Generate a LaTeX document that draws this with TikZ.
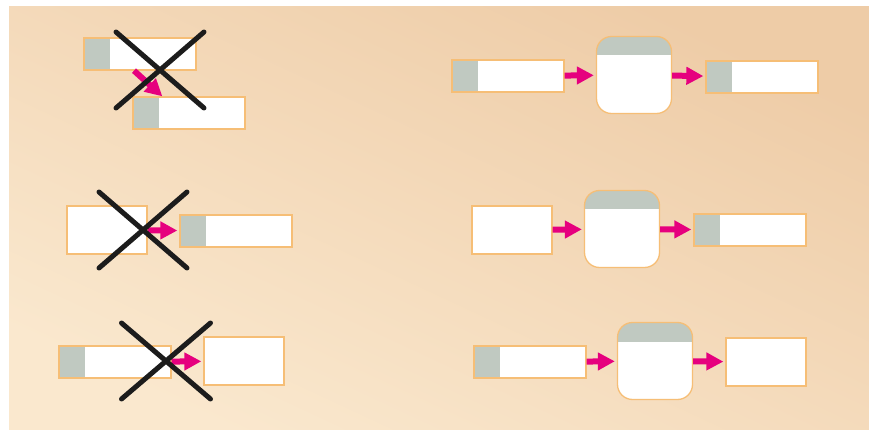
\documentclass[tikz,border=0pt]{standalone}
\usetikzlibrary{shapes.misc,arrows.meta}

\definecolor{boxline}{RGB}{246,190,118}
\definecolor{tagfill}{RGB}{192,201,193}
\definecolor{flowpink}{RGB}{230,0,126}
\definecolor{ink}{RGB}{28,28,28}
\definecolor{paperdark}{RGB}{238,204,167}
\definecolor{paperlight}{RGB}{250,232,206}

\begin{document}
\begin{tikzpicture}[x=1pt,y=-1pt,
    tag box/.style={draw=boxline,line width=1.3pt,fill=white,inner sep=0pt,
      minimum width=112pt,minimum height=32pt,
      path picture={\fill[tagfill] (path picture bounding box.north west)
        rectangle ([xshift=26pt]path picture bounding box.south west);}},
    plain box/.style={draw=boxline,line width=1.3pt,fill=white,inner sep=0pt,
      minimum width=80pt,minimum height=48pt},
    round box/.style={draw=boxline,line width=1.3pt,fill=white,inner sep=0pt,
      rounded corners=15pt,minimum width=75pt,minimum height=77pt,
      path picture={\fill[tagfill,sharp corners] (path picture bounding box.north west)
        rectangle ([yshift=-19pt]path picture bounding box.north east);}},
    flow arrow/.style={-{Triangle[length=17pt,width=17pt]},line width=6pt,
      draw=flowpink,shorten >=2pt},
    wrong/.style={cross out,draw=ink,line width=5pt,line cap=round,
      minimum width=83pt,minimum height=71pt,inner sep=0pt}]

  % paper
  \useasboundingbox (0,0) rectangle (869,430);
  \fill[white] (0,0) rectangle (869,430);
  \shade[top color=paperdark,bottom color=paperlight,shading angle=-25]
    (9,7) rectangle (869,430);

  % left column: wrong ways
  \node[tag box] (1) at (140,54) {};
  \node[tag box] (2) at (189,113) {};
  \node[plain box] (3) at (107,230) {};
  \node[tag box] (4) at (236,231) {};
  \node[tag box] (5) at (115,362) {};
  \node[plain box] (6) at (244,361) {};

  % right column: right ways
  \node[tag box] (7) at (508,76) {};
  \node[round box] (8) at (634,75) {};
  \node[tag box] (9) at (762,77) {};
  \node[plain box] (10) at (512,230) {};
  \node[round box] (11) at (622,229) {};
  \node[tag box] (12) at (750,230) {};
  \node[tag box] (13) at (530,362) {};
  \node[round box] (14) at (655,361) {};
  \node[plain box] (15) at (766,362) {};

  \draw[flow arrow,shorten >=0pt] ([xshift=-6pt]1.south) -- ([xshift=30pt]2.north west);
  \draw[flow arrow] (3) -- (4);
  \draw[flow arrow] (5) -- (6);
  \draw[flow arrow] (7) -- (8);
  \draw[flow arrow] (8) -- (9);
  \draw[flow arrow] (10) -- (11);
  \draw[flow arrow] (11) -- (12);
  \draw[flow arrow] (13) -- (14);
  \draw[flow arrow] (14) -- (15);

  \node[wrong] (x1) at (160,70) {};
  \node[wrong] (x2) at (143,230) {};
  \node[wrong,minimum width=84pt] (x3) at (166,361) {};
\end{tikzpicture}
\end{document}
